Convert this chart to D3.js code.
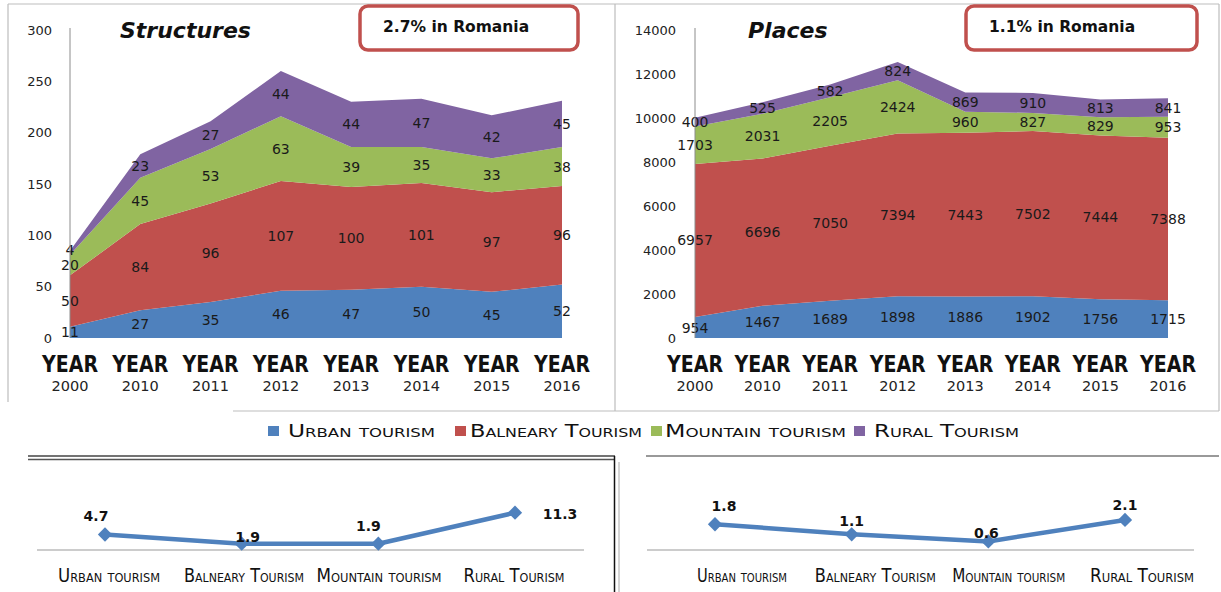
<!DOCTYPE html>
<html><head><meta charset="utf-8">
<script src="https://cdn.jsdelivr.net/npm/d3@7"></script>
<style>body{margin:0;background:#fff} svg{display:block}</style>
</head><body>
<svg id="c" width="1221" height="592"></svg>
<script>
// ---------- data ----------
const years = ["2000","2010","2011","2012","2013","2014","2015","2016"];
const seriesNames = ["Urban tourism","Balneary Tourism","Mountain tourism","Rural Tourism"];
const structUrban    = [11,27,35,46,47,50,45,52];
const structBalneary = [50,84,96,107,100,101,97,96];
const structMountain = [20,45,53,63,39,35,33,38];
const structRural    = [4,23,27,44,44,47,42,45];
const placesUrban    = [954,1467,1689,1898,1886,1902,1756,1715];
const placesBalneary = [6957,6696,7050,7394,7443,7502,7444,7388];
const placesMountain = [1703,2031,2205,2424,960,827,829,953];
const placesRural    = [400,525,582,824,869,910,813,841];
const structTicks = [0,50,100,150,200,250,300];
const placesTicks = [0,2000,4000,6000,8000,10000,12000,14000];
const structShare = [4.7,1.9,1.9,11.3];
const placesShare = [1.8,1.1,0.6,2.1];
const structNote = "2.7% in Romania";
const placesNote = "1.1% in Romania";

// ---------- style / layout ----------
const colors = ["#4F81BD","#C0504D","#9BBB59","#8064A2"];
const svg = d3.select("#c");
const F = "'DejaVu Sans', Verdana, sans-serif";

// frame lines
const frame = [
  [8,4,1219,4],[8,4,8,402],[615,4,615,411],[1219,4,1219,411],[233,411,1219,411]
];
svg.selectAll("line.frame").data(frame).join("line").attr("class","frame")
  .attr("x1",d=>d[0]).attr("y1",d=>d[1]).attr("x2",d=>d[2]).attr("y2",d=>d[3])
  .attr("stroke","#bdbdbd").attr("stroke-width",1.2);
// bottom panels
svg.append("line").attr("x1",28).attr("x2",615).attr("y1",456).attr("y2",456).attr("stroke","#444").attr("stroke-width",1.5);
svg.append("line").attr("x1",28).attr("x2",615).attr("y1",459.5).attr("y2",459.5).attr("stroke","#555").attr("stroke-width",1.5);
svg.append("line").attr("x1",614.5).attr("x2",614.5).attr("y1",456).attr("y2",592).attr("stroke","#111").attr("stroke-width",1.5);
svg.append("line").attr("x1",619).attr("x2",619).attr("y1",462).attr("y2",592).attr("stroke","#aaa").attr("stroke-width",1);
svg.append("line").attr("x1",646).attr("x2",1219).attr("y1",456).attr("y2",456).attr("stroke","#999").attr("stroke-width",2);

function areaChart(o){
  const g = svg.append("g");
  const x = d3.scalePoint().domain(years).range([o.x0, o.x1]);
  const y = d3.scaleLinear().domain([0, o.max]).range([338, 30]);
  const rows = years.map((yr,i)=>({year:yr, v:o.series.map(s=>s[i])}));
  const stack = d3.stack().keys([0,1,2,3]).value((d,k)=>d.v[k]);
  const layers = stack(rows);
  const area = d3.area().x(d=>x(d.data.year)).y0(d=>y(d[0])).y1(d=>y(d[1]));
  g.selectAll("path.layer").data(layers).join("path").attr("class","layer")
    .attr("d",area).attr("fill",(d,i)=>colors[i]);
  // data labels (band centres, pushed apart when too close)
  const labels = [];
  rows.forEach((r,i)=>{
    let prev = Infinity;
    layers.forEach(L=>{
      const d = L[i];
      let yy = y((d[0]+d[1])/2);
      if (yy > prev - 15) yy = prev - 15;
      prev = yy;
      labels.push({x:x(r.year), y:yy, t:r.v[L.key]});
    });
  });
  g.selectAll("text.dl").data(labels).join("text").attr("class","dl")
    .attr("x",d=>d.x).attr("y",d=>d.y)
    .attr("text-anchor","middle").attr("dominant-baseline","central")
    .attr("font-family",F).attr("font-size",14).attr("fill","#1a1a1a")
    .text(d=>d.t);
  // y axis
  const ax = g.append("g").attr("transform",`translate(${o.x0},0)`)
    .call(d3.axisLeft(y).tickValues(o.ticks).tickSize(0).tickPadding(o.pad).tickFormat(d3.format("d")));
  ax.select(".domain").attr("stroke","#8c8c8c").attr("d",`M0,${y(o.max)-2}V${y(0)}`);
  ax.selectAll("text").attr("font-family",F).attr("font-size",13).attr("fill","#222");
  // x labels
  const xl = g.selectAll("g.xl").data(years).join("g").attr("class","xl")
    .attr("transform",d=>`translate(${x(d)},0)`);
  xl.append("text").attr("y",372).attr("text-anchor","middle")
    .attr("font-family",F).attr("font-weight","bold").attr("font-size",23)
    .attr("textLength",56).attr("lengthAdjust","spacingAndGlyphs").attr("fill","#111").text("YEAR");
  xl.append("text").attr("y",391).attr("text-anchor","middle")
    .attr("font-family",F).attr("font-size",14.5).attr("fill","#222").text(d=>d);
  // title
  g.append("text").attr("x",o.titleX).attr("y",38).attr("font-family",F)
    .attr("font-weight","bold").attr("font-style","italic").attr("font-size",22).attr("fill","#111").text(o.title);
  // note box
  g.append("rect").attr("x",o.boxX).attr("y",6).attr("width",o.boxW).attr("height",44).attr("rx",8)
    .attr("fill","#fff").attr("stroke","#C0504D").attr("stroke-width",3.5);
  g.append("text").attr("x",o.boxX+23).attr("y",32).attr("font-family",F).attr("font-weight","bold")
    .attr("font-size",15.5).attr("fill","#111").text(o.note);
}

areaChart({x0:70,x1:562,max:300,ticks:structTicks,pad:18,
  series:[structUrban,structBalneary,structMountain,structRural],
  title:"Structures",titleX:120,boxX:360,boxW:218,note:structNote});
areaChart({x0:695,x1:1168,max:14000,ticks:placesTicks,pad:19,
  series:[placesUrban,placesBalneary,placesMountain,placesRural],
  title:"Places",titleX:748,boxX:966,boxW:231,note:placesNote});

// legend
const legX = [268,455,651,854];
const lg = svg.selectAll("g.leg").data(seriesNames).join("g").attr("class","leg")
  .attr("transform",(d,i)=>`translate(${legX[i]},0)`);
lg.append("rect").attr("x",0).attr("y",426).attr("width",11).attr("height",10).attr("fill",(d,i)=>colors[i]);
const legW = [147,172,181,145];
lg.append("text").attr("x",(d,i)=>i===0?20:(i===1?15:(i===2?14:20))).attr("y",437)
  .attr("font-family",F).attr("font-size",17).attr("font-variant","small-caps")
  .attr("textLength",(d,i)=>legW[i]).attr("lengthAdjust","spacingAndGlyphs").attr("fill","#111").text(d=>d);

// line charts
function lineChart(o){
  const g = svg.append("g");
  const x = d3.scalePoint().domain(seriesNames).range(o.xr);
  const xLab = d3.scalePoint().domain(seriesNames).range(o.labr);
  const y = d3.scaleLinear().domain(o.dom).range([550, o.top]);
  g.append("line").attr("x1",o.base[0]).attr("x2",o.base[1]).attr("y1",y(0)).attr("y2",y(0))
    .attr("stroke","#9a9a9a").attr("stroke-width",1.2);
  const pts = seriesNames.map((n,i)=>({n, v:o.values[i]}));
  g.append("path").datum(pts).attr("fill","none").attr("stroke","#4F81BD").attr("stroke-width",4.5)
    .attr("stroke-linejoin","round").attr("d",d3.line().x(d=>x(d.n)).y(d=>y(d.v)));
  g.selectAll("path.m").data(pts).join("path").attr("class","m")
    .attr("transform",d=>`translate(${x(d.n)},${y(d.v)})`)
    .attr("d",d3.symbol(d3.symbolDiamond2,130)()).attr("fill","#4F81BD");
  g.selectAll("text.v").data(pts).join("text").attr("class","v")
    .attr("x",(d,i)=>x(d.n)+o.nudge[i][0]).attr("y",(d,i)=>y(d.v)+o.nudge[i][1])
    .attr("text-anchor","middle").attr("font-family",F).attr("font-weight","bold").attr("font-size",14)
    .attr("fill","#111").text(d=>d.v);
  g.selectAll("text.c").data(seriesNames).join("text").attr("class","c")
    .attr("x",d=>xLab(d)).attr("y",582).attr("text-anchor","middle")
    .attr("font-family",F).attr("font-size",19).attr("font-variant","small-caps")
    .attr("textLength",(d,i)=>o.labW[i]).attr("lengthAdjust","spacingAndGlyphs").attr("fill","#111").text(d=>d);
}
lineChart({xr:[105,515],labr:[109,514],dom:[0,12],top:510.4,base:[37,584],values:structShare,
  nudge:[[-9,-13],[6,-2],[-10,-13],[45,6]],labW:[102,120,125,101]});
lineChart({xr:[715,1125],labr:[742,1142],dom:[0,3],top:507.1,base:[647,1194],values:placesShare,
  nudge:[[9,-13],[0,-8],[-2,-3],[0,-10]],labW:[90,121,113,104]});
</script>
</body></html>
